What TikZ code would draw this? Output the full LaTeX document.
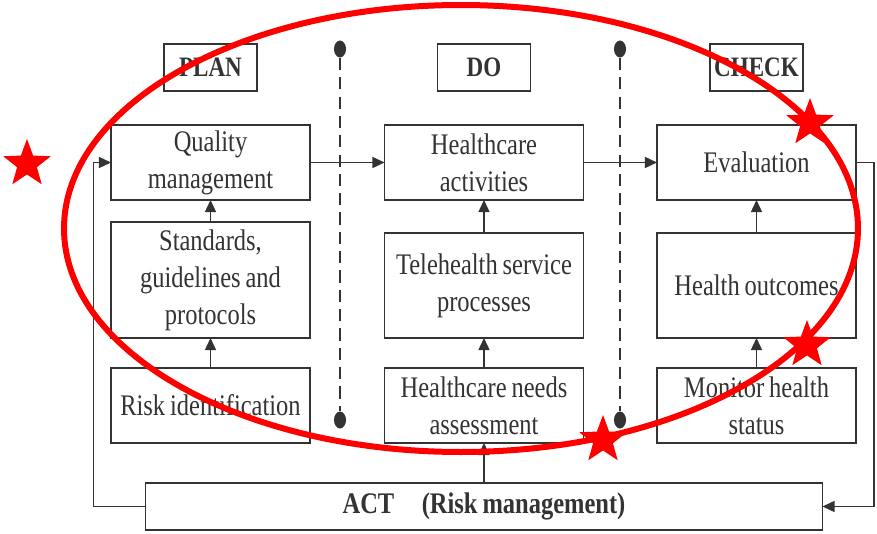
\documentclass[tikz,border=0pt]{standalone}
\usepackage{fontspec}
\setmainfont{Liberation Serif}[FakeStretch=0.82, WordSpace=0.8]
\usetikzlibrary{positioning,arrows.meta,shapes.geometric,calc}
\definecolor{linegray}{HTML}{333333}
\definecolor{ringred}{HTML}{FF0000}

\begin{document}
\begin{tikzpicture}[
    node distance=0.6cm and 1.0cm,
    every node/.style={font=\fontsize{17}{21}\selectfont, text=linegray},
    block/.style={rectangle, draw=linegray, line width=1pt, text width=3.84cm, outer sep=0pt,
                  inner xsep=2pt, inner ysep=1pt, minimum height=#1, align=flush center},
    phase/.style={rectangle, draw=linegray, line width=1pt, minimum width=1.86cm, inner sep=2pt,
                  outer sep=0pt, minimum height=0.94cm, font=\fontsize{16}{20}\selectfont\bfseries},
    actbox/.style={rectangle, draw=linegray, line width=1pt, minimum width=13.54cm, inner sep=2pt,
                   outer sep=0pt, minimum height=0.94cm, font=\fontsize{17}{21}\selectfont\bfseries},
    arrow/.style={-{Triangle[length=0.24cm, width=0.22cm]}, line width=0.8pt, color=linegray},
    divider/.style={line width=0.8pt, color=linegray, dash pattern=on 7pt off 4pt},
    dotend/.style={ellipse, fill=linegray, inner sep=0pt, minimum width=0.24cm, minimum height=0.34cm},
    redstar/.style={star, star points=5, star point ratio=2.4, fill=ringred,
                    inner sep=0pt, minimum size=1.0cm},
]
\useasboundingbox (0,0) rectangle (17.54,-10.68);

% Plan column
\node[block=1.5cm] (qual) at (4.21,-3.25) {Quality\\management};
\node[block=2.32cm, below=0.44cm of qual] (stand) {Standards,\\guidelines and\\protocols};
\node[block=1.5cm, below=0.6cm of stand] (risk) {Risk identification};

% Do column
\node[block=1.5cm] (care) at (9.68,-3.25) {Healthcare\\activities};
\node[block=2.1cm, below=0.66cm of care] (tele) {Telehealth service\\processes};
\node[block=1.5cm, below=0.6cm of tele] (needs) {Healthcare needs\\assessment};

% Check column
\node[block=1.5cm] (eval) at (15.13,-3.25) {Evaluation};
\node[block=2.1cm, below=0.66cm of eval] (outcome) {Health outcomes};
\node[block=1.5cm, below=0.6cm of outcome] (monitor) {Monitor health\\status};

% Phase labels
\node[phase, above=0.68cm of qual] (plan) {PLAN};
\node[phase, above=0.68cm of care] (do) {DO};
\node[phase, above=0.68cm of eval] (check) {CHECK};

% Act
\node[actbox, below=0.8cm of needs] (act) {ACT\hspace{0.55cm}(Risk management)};

% Dividers
\node[dotend] (topdotA) at (6.8,-0.98) {};
\node[dotend] (botdotA) at (6.8,-8.4) {};
\node[dotend] (topdotB) at (12.4,-0.98) {};
\node[dotend] (botdotB) at (12.4,-8.4) {};
\draw[divider] (topdotA) -- (botdotA);
\draw[divider] (topdotB) -- (botdotB);

% Arrows
\draw[arrow] (qual) -- (care);
\draw[arrow] (care) -- (eval);
\draw[arrow] (stand) -- (qual);
\draw[arrow] (risk) -- (stand);
\draw[arrow] (tele) -- (care);
\draw[arrow] (needs) -- (tele);
\draw[arrow] (outcome) -- (eval);
\draw[arrow] (monitor) -- (outcome);
\draw[arrow] (needs |- act.north) -- (needs.south);

% Feedback loops
\draw[arrow] (act.west) -- ++(-1.04,0) |- (qual.west);
\draw[arrow] (eval.east) -- ++(0.36,0) |- (act.east);

% Red marks
\draw[ringred, line width=0.12cm] (9.22,-4.57) ellipse [x radius=7.94cm, y radius=4.47cm];
\node[redstar] (leftstar) at (0.54,-3.28) {};
\node[redstar] (evalstar) at (16.2,-2.46) {};
\node[redstar] (outstar) at (16.14,-6.9) {};
\node[redstar] (needstar) at (12.06,-8.8) {};

\end{tikzpicture}
\end{document}
